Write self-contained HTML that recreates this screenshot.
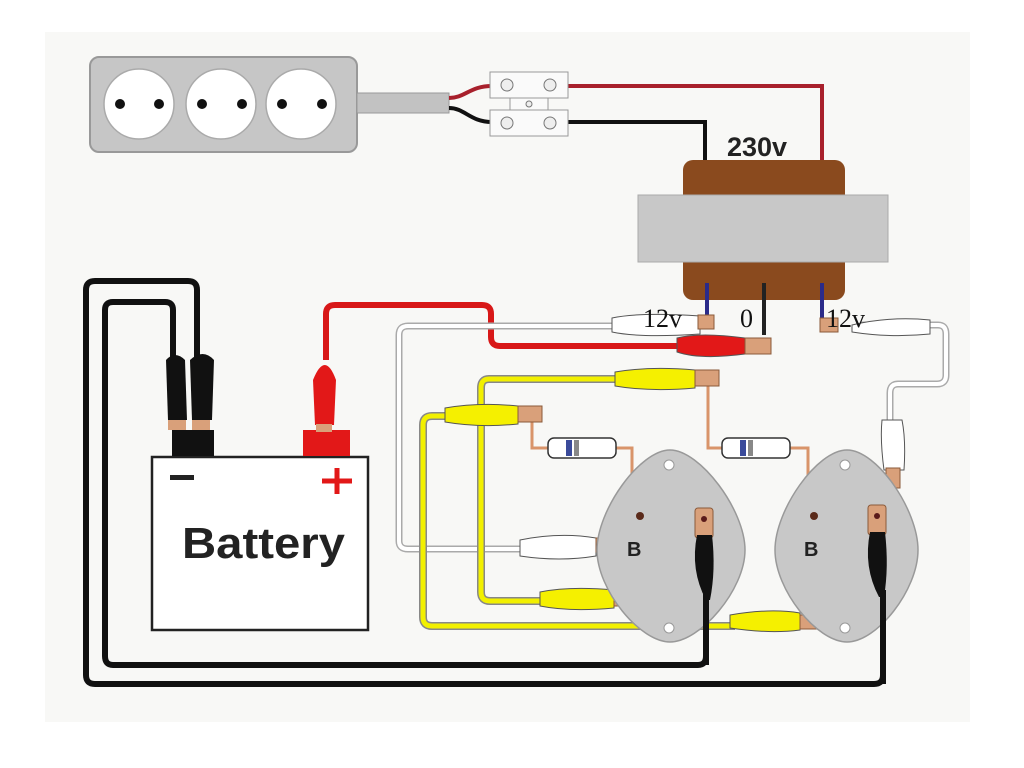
<!DOCTYPE html>
<html><head><meta charset="utf-8"><style>html,body{margin:0;padding:0;background:#fff}svg{display:block}</style></head>
<body>
<svg width="1024" height="768" viewBox="0 0 1024 768" xmlns="http://www.w3.org/2000/svg" font-family="Liberation Sans, sans-serif">
<rect x="0" y="0" width="1024" height="768" fill="#fff"/>
<rect x="45" y="32" width="925" height="690" fill="#f8f8f6"/>
<!-- power strip -->
<rect x="90" y="57" width="267" height="95" rx="9" fill="#c6c6c6" stroke="#999" stroke-width="2"/>
<g fill="#fff" stroke="#aaa" stroke-width="1.5">
<circle cx="139" cy="104" r="35"/><circle cx="221" cy="104" r="35"/><circle cx="301" cy="104" r="35"/></g>
<g fill="#111"><circle cx="120" cy="104" r="5"/><circle cx="159" cy="104" r="5"/><circle cx="202" cy="104" r="5"/><circle cx="242" cy="104" r="5"/><circle cx="282" cy="104" r="5"/><circle cx="322" cy="104" r="5"/></g>
<rect x="357" y="93" width="92" height="20" fill="#c2c2c2" stroke="#999"/>
<!-- mains wires -->
<path d="M449 98 C465 98 470 86 492 86 L822 86 L822 165" fill="none" stroke="#a8202c" stroke-width="4"/>
<path d="M449 108 C465 108 470 122 492 122 L705 122 L705 165" fill="none" stroke="#111" stroke-width="4"/>
<rect x="490" y="72" width="78" height="26" fill="#fafafa" stroke="#999"/>
<rect x="490" y="110" width="78" height="26" fill="#fafafa" stroke="#999"/>
<rect x="510" y="98" width="38" height="12" fill="#fafafa" stroke="#999"/>
<g fill="#eee" stroke="#777"><circle cx="507" cy="85" r="6"/><circle cx="550" cy="85" r="6"/><circle cx="507" cy="123" r="6"/><circle cx="550" cy="123" r="6"/><circle cx="529" cy="104" r="3"/></g>
<!-- transformer -->
<rect x="683" y="160" width="162" height="140" rx="10" fill="#8a4a1e"/>
<rect x="638" y="195" width="250" height="67" fill="#c8c8c8" stroke="#aaa"/>
<text x="727" y="156" font-size="27" font-weight="bold" fill="#222">230v</text>
<path d="M707 283 V318 M822 283 V318" stroke="#2b2b8a" stroke-width="4"/>
<path d="M764 283 V335" stroke="#222" stroke-width="4"/>
<!-- black loops -->
<path d="M197 370 V290 Q197 281 188 281 H95 Q86 281 86 290 V675 Q86 684 95 684 H874 Q883 684 883 675 V560" fill="none" stroke="#111" stroke-width="6"/>
<path d="M173 370 V310 Q173 302 165 302 H113 Q105 302 105 310 V656 Q105 665 113 665 H698 Q706 665 706 656 V560" fill="none" stroke="#111" stroke-width="6"/>
<!-- red wire -->
<path d="M326 360 V314 Q326 305 335 305 H482 Q491 305 491 314 V337 Q491 346 500 346 H690" fill="none" stroke="#d81818" stroke-width="6"/>
<!-- white wires -->
<path d="M620 326 H408 Q399 326 399 335 V541 Q399 549 408 549 H540" fill="none" stroke="#aaa" stroke-width="7"/>
<path d="M620 326 H408 Q399 326 399 335 V541 Q399 549 408 549 H540" fill="none" stroke="#fff" stroke-width="4"/>
<path d="M860 325 H938 Q946 325 946 334 V375 Q946 384 937 384 H898 Q890 384 890 393 V430" fill="none" stroke="#aaa" stroke-width="7"/>
<path d="M860 325 H938 Q946 325 946 334 V375 Q946 384 937 384 H898 Q890 384 890 393 V430" fill="none" stroke="#fff" stroke-width="4"/>
<!-- yellow wires -->
<path d="M620 379 H489 Q481 379 481 388 V592 Q481 601 490 601 H545" fill="none" stroke="#888" stroke-width="8"/>
<path d="M620 379 H489 Q481 379 481 388 V592 Q481 601 490 601 H545" fill="none" stroke="#f2f000" stroke-width="5"/>
<path d="M455 416 H432 Q423 416 423 425 V617 Q423 626 432 626 H735" fill="none" stroke="#888" stroke-width="8"/>
<path d="M455 416 H432 Q423 416 423 425 V617 Q423 626 432 626 H735" fill="none" stroke="#f2f000" stroke-width="5"/>
<!-- copper leads -->
<g fill="none" stroke="#d9946a" stroke-width="3">
<path d="M708 370 V448 H722"/><path d="M616 448 H632 V515"/><path d="M790 448 H808 V515"/><path d="M532 415 V448 H548"/>
</g>
<!-- clips -->
<g stroke="#555" stroke-width="1">
<path d="M612 318 Q640 312 700 316 L700 334 Q640 338 612 332 Z" fill="#fff"/>
<path d="M677 338 Q700 332 745 338 L745 354 Q700 360 677 352 Z" fill="#e21818"/>
<path d="M615 372 Q650 366 695 370 L695 388 Q650 392 615 386 Z" fill="#f5f000"/>
<path d="M445 408 Q480 402 518 406 L518 424 Q480 428 445 422 Z" fill="#f5f000"/>
<path d="M520 540 Q560 532 596 538 L596 556 Q560 562 520 556 Z" fill="#fff"/>
<path d="M540 592 Q570 586 614 590 L614 608 Q570 612 540 606 Z" fill="#f5f000"/>
<path d="M730 615 Q770 608 800 613 L800 630 Q770 634 730 628 Z" fill="#f5f000"/>
<path d="M852 325 Q890 316 930 320 L930 334 Q890 338 852 332 Z" fill="#fff"/>
<path d="M882 420 Q880 440 884 470 L904 470 Q906 440 902 420 Z" fill="#fff"/>
</g>
<g fill="#d9a07a" stroke="#8a5a3a" stroke-width="1">
<rect x="698" y="315" width="16" height="14"/><rect x="745" y="338" width="26" height="16"/><rect x="695" y="370" width="24" height="16"/>
<rect x="518" y="406" width="24" height="16"/><rect x="596" y="538" width="16" height="14"/><rect x="614" y="592" width="18" height="14"/>
<rect x="800" y="615" width="20" height="14"/><rect x="820" y="318" width="18" height="14"/><rect x="886" y="468" width="14" height="20"/>
</g>
<!-- resistors -->
<g stroke="#333" stroke-width="1.5">
<rect x="548" y="438" width="68" height="20" rx="6" fill="#fff"/>
<rect x="722" y="438" width="68" height="20" rx="6" fill="#fff"/>
</g>
<rect x="566" y="440" width="6" height="16" fill="#3a4a9a"/><rect x="574" y="440" width="5" height="16" fill="#888"/>
<rect x="740" y="440" width="6" height="16" fill="#3a4a9a"/><rect x="748" y="440" width="5" height="16" fill="#888"/>
<!-- transistors -->
<g fill="#c8c8c8" stroke="#999" stroke-width="1.5">
<path d="M670 450 C700 450 745 510 745 550 C745 590 700 642 670 642 C640 642 597 590 597 550 C597 510 640 450 670 450 Z"/>
<path d="M847 450 C877 450 918 510 918 550 C918 590 877 642 847 642 C817 642 775 590 775 550 C775 510 817 450 847 450 Z"/>
</g>
<g fill="#fff" stroke="#999"><circle cx="669" cy="465" r="5"/><circle cx="669" cy="628" r="5"/><circle cx="845" cy="465" r="5"/><circle cx="845" cy="628" r="5"/></g>
<g fill="#5a2a1a"><circle cx="640" cy="516" r="4"/><circle cx="814" cy="516" r="4"/></g>
<text x="627" y="556" font-size="20" font-weight="bold" fill="#222">B</text>
<text x="804" y="556" font-size="20" font-weight="bold" fill="#222">B</text>
<g fill="#d9a07a" stroke="#8a5a3a"><rect x="695" y="508" width="18" height="30" rx="3"/><rect x="868" y="505" width="18" height="30" rx="3"/></g>
<g fill="#5a1a1a"><circle cx="704" cy="519" r="3"/><circle cx="877" cy="516" r="3"/></g>
<path d="M697 535 Q690 570 706 600 L710 600 Q716 570 712 535 Z" fill="#111"/>
<path d="M870 532 Q863 567 879 597 L884 597 Q889 567 885 532 Z" fill="#111"/>
<path d="M706 590 V665 M883 590 V684" stroke="#111" stroke-width="6"/>
<!-- labels -->
<g font-family="Liberation Serif, serif" font-size="26" fill="#111">
<text x="643" y="327">12v</text><text x="740" y="327">0</text><text x="826" y="327">12v</text></g>
<!-- battery -->
<rect x="152" y="457" width="216" height="173" fill="#fff" stroke="#222" stroke-width="2.5"/>
<text x="182" y="558" font-size="44" font-weight="bold" fill="#222" textLength="163" lengthAdjust="spacingAndGlyphs">Battery</text>
<rect x="170" y="475" width="24" height="5" fill="#222"/>
<path d="M322 481 H352 M337 468 V494" stroke="#e21818" stroke-width="5"/>
<rect x="172" y="430" width="42" height="26" fill="#111"/>
<rect x="303" y="430" width="47" height="26" fill="#e21818"/>
<path d="M166 360 Q175 350 185 360 L187 420 L168 420 Z" fill="#111"/>
<path d="M190 360 Q203 348 214 360 L212 420 L192 420 Z" fill="#111"/>
<path d="M313 380 Q325 350 336 380 L334 425 L315 425 Z" fill="#e21818"/>
<g fill="#d9a07a"><rect x="168" y="420" width="18" height="10"/><rect x="192" y="420" width="18" height="10"/><rect x="316" y="424" width="16" height="8"/></g>
</svg>
</body></html>
